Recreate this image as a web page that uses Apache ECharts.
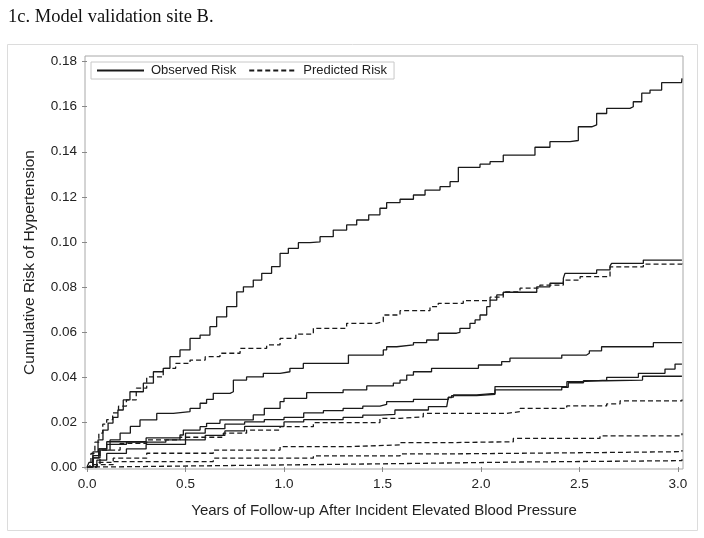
<!DOCTYPE html>
<html>
<head>
<meta charset="utf-8">
<script src="https://cdn.jsdelivr.net/npm/echarts@6/dist/echarts.min.js"></script>
<style>
html,body{margin:0;padding:0;background:#fff;}
#chart{width:704px;height:538px;}
</style>
</head>
<body>
<div id="chart"></div>
<script>
// ---- Data (years, cumulative risk) ----
var xTicks = [0, 0.5, 1.0, 1.5, 2.0, 2.5, 3.0];
var yTicks = [0, 0.02, 0.04, 0.06, 0.08, 0.10, 0.12, 0.14, 0.16, 0.18];

var observed5 = [[0,0],[0.01,0.002],[0.03,0.0067],[0.056,0.012],[0.081,0.0164],[0.107,0.0195],[0.132,0.022],[0.157,0.0253],[0.184,0.0298],[0.218,0.0334],[0.286,0.0372],[0.337,0.0423],[0.387,0.0438],[0.421,0.049],[0.472,0.052],[0.523,0.0571],[0.574,0.0586],[0.624,0.0623],[0.658,0.0667],[0.709,0.0712],[0.76,0.0778],[0.794,0.080],[0.844,0.083],[0.887,0.086],[0.937,0.089],[0.98,0.0949],[1.022,0.0971],[1.073,0.0996],[1.132,0.100],[1.183,0.1023],[1.25,0.1052],[1.318,0.1075],[1.369,0.1097],[1.43,0.112],[1.487,0.1149],[1.521,0.1174],[1.589,0.1189],[1.657,0.1208],[1.716,0.123],[1.792,0.1245],[1.843,0.1267],[1.885,0.1331],[1.995,0.1345],[2.046,0.1356],[2.113,0.1385],[2.274,0.142],[2.35,0.1445],[2.452,0.145],[2.494,0.1511],[2.562,0.1519],[2.587,0.157],[2.638,0.1593],[2.756,0.16],[2.773,0.1622],[2.816,0.166],[2.858,0.1674],[2.917,0.1707],[3.018,0.1707],[3.02,0.1726]];

var observed4 = [[0,0],[0.03,0.004],[0.066,0.0075],[0.117,0.012],[0.168,0.015],[0.22,0.018],[0.269,0.0209],[0.354,0.0238],[0.438,0.0246],[0.523,0.026],[0.574,0.0283],[0.607,0.030],[0.641,0.0327],[0.726,0.0334],[0.743,0.0386],[0.81,0.040],[0.895,0.0416],[0.98,0.0423],[1.03,0.0438],[1.098,0.046],[1.327,0.0497],[1.504,0.052],[1.521,0.0534],[1.572,0.0542],[1.657,0.0552],[1.724,0.0564],[1.783,0.0594],[1.876,0.0598],[1.893,0.0616],[1.944,0.0638],[1.97,0.0653],[1.995,0.0675],[2.029,0.0712],[2.046,0.0741],[2.08,0.0764],[2.113,0.0776],[2.283,0.080],[2.35,0.0816],[2.418,0.0838],[2.426,0.086],[2.587,0.0875],[2.655,0.0893],[2.663,0.0904],[2.824,0.0919],[3.02,0.0922]];

var observed3 = [[0,0],[0.03,0.004],[0.06,0.008],[0.1,0.0112],[0.3,0.0129],[0.472,0.0142],[0.489,0.0164],[0.574,0.0179],[0.607,0.0194],[0.675,0.0209],[0.844,0.0231],[0.9,0.026],[0.98,0.029],[1.0,0.0305],[1.115,0.033],[1.3,0.0342],[1.42,0.036],[1.555,0.0372],[1.589,0.0386],[1.623,0.0408],[1.657,0.0423],[1.749,0.0438],[1.987,0.0453],[2.105,0.0468],[2.147,0.0483],[2.41,0.0497],[2.536,0.0505],[2.55,0.0516],[2.612,0.0534],[2.875,0.0552],[3.02,0.0552]];

var observed2 = [[0,0],[0.03,0.005],[0.06,0.008],[0.1,0.01],[0.2,0.011],[0.4,0.012],[0.5,0.015],[0.6,0.017],[0.7,0.019],[0.8,0.02],[0.9,0.021],[1.0,0.022],[1.1,0.024],[1.2,0.025],[1.3,0.026],[1.4,0.027],[1.487,0.0278],[1.521,0.029],[1.657,0.030],[1.834,0.031],[1.86,0.032],[1.978,0.0327],[2.071,0.0357],[2.436,0.0379],[2.511,0.0386],[2.638,0.0398],[2.799,0.0416],[2.934,0.0435],[2.985,0.0457],[3.02,0.0457]];

var observed1 = [[0,0],[0.05,0.003],[0.1,0.006],[0.2,0.008],[0.3,0.01],[0.5,0.012],[0.6,0.014],[0.7,0.016],[0.8,0.018],[1.0,0.02],[1.1,0.021],[1.3,0.022],[1.4,0.023],[1.487,0.0234],[1.563,0.0253],[1.733,0.0268],[1.826,0.0275],[1.834,0.0308],[1.851,0.0317],[1.978,0.0323],[2.071,0.0342],[2.41,0.0354],[2.443,0.0374],[2.52,0.0383],[2.63,0.0386],[2.82,0.0403],[3.02,0.0403]];

var predicted5 = [[0,0],[0.02,0.006],[0.04,0.011],[0.06,0.015],[0.08,0.019],[0.1,0.021],[0.13,0.024],[0.16,0.027],[0.2,0.0298],[0.25,0.035],[0.303,0.040],[0.387,0.0438],[0.45,0.046],[0.523,0.0475],[0.6,0.049],[0.675,0.0505],[0.777,0.0527],[0.912,0.0542],[0.98,0.0571],[1.06,0.059],[1.149,0.0616],[1.318,0.0638],[1.47,0.0645],[1.504,0.0675],[1.589,0.0694],[1.741,0.0712],[1.783,0.0727],[1.91,0.0739],[2.046,0.0754],[2.113,0.0778],[2.198,0.0794],[2.299,0.0808],[2.418,0.083],[2.503,0.0845],[2.655,0.0889],[2.824,0.0901],[3.02,0.0915]];

var predicted4 = [[0,0],[0.015,0.001],[0.066,0.0075],[0.168,0.0105],[0.303,0.012],[0.472,0.0132],[0.692,0.015],[0.81,0.0164],[0.98,0.0179],[1.149,0.0197],[1.487,0.0216],[1.589,0.0223],[1.707,0.0238],[2.13,0.0246],[2.198,0.026],[2.435,0.0271],[2.638,0.028],[2.706,0.0294],[3.02,0.030]];

var predicted3 = [[0,0],[0.05,0.002],[0.133,0.0039],[0.303,0.0061],[0.641,0.0075],[0.98,0.009],[1.318,0.0098],[1.589,0.0108],[1.826,0.0112],[2.164,0.0127],[2.604,0.0138],[3.02,0.015]];

var predicted2 = [[0,0],[0.05,0.001],[0.133,0.0024],[0.641,0.0039],[1.149,0.0049],[1.589,0.0058],[1.826,0.0064],[2.604,0.0068],[3.02,0.0075]];

var predicted1 = [[0,0],[0.1,0.0004],[0.472,0.0009],[1.0,0.0015],[1.589,0.0022],[2.2,0.0028],[3.02,0.0034]];

var observedSets = [observed5, observed4, observed3, observed2, observed1];
var predictedSets = [predicted5, predicted4, predicted3, predicted2, predicted1];

// ---- Chart ----
var chart = echarts.init(document.getElementById('chart'), null, {renderer: 'canvas'});
var lineColor = '#1a1a1a';
var series = [];
observedSets.forEach(function (d) {
  series.push({
    name: 'Observed Risk', type: 'line', data: d, step: 'end',
    symbol: 'none', showSymbol: false, silent: true, animation: false,
    lineStyle: {color: lineColor, width: 1.3, type: 'solid'},
    itemStyle: {color: lineColor}
  });
});
predictedSets.forEach(function (d) {
  series.push({
    name: 'Predicted Risk', type: 'line', data: d, step: 'end',
    symbol: 'none', showSymbol: false, silent: true, animation: false,
    lineStyle: {color: lineColor, width: 1.3, type: [5, 3]},
    itemStyle: {color: lineColor}
  });
});

var axisFont = 'Liberation Sans, Arial, sans-serif';
var option = {
  animation: false,
  backgroundColor: '#fff',
  title: {
    text: '1c. Model validation site B.',
    left: 3, top: 3,
    textStyle: {fontFamily: 'Liberation Serif, Times New Roman, serif', fontSize: 18.5, fontWeight: 'normal', color: '#111'}
  },
  graphic: [{
    type: 'rect', z: -1, silent: true,
    shape: {x: 7.5, y: 44.5, width: 690, height: 486},
    style: {fill: 'none', stroke: '#dcdcdc', lineWidth: 1}
  }],
  legend: {
    data: ['Observed Risk', 'Predicted Risk'],
    left: 91, top: 62,
    padding: [2, 7, 2, 5],
    itemWidth: 47, itemHeight: 10, itemGap: 12,
    itemStyle: {opacity: 0},
    borderColor: '#c8c8c8', borderWidth: 1,
    textStyle: {fontFamily: axisFont, fontSize: 13, color: '#222', padding: [0, 0, 0, 2]}
  },
  grid: {
    left: 85, right: 21, top: 56, bottom: 69,
    show: true, borderColor: '#a8a8a8', borderWidth: 1, containLabel: false
  },
  xAxis: {
    type: 'value', min: -0.0102, max: 3.0254,
    name: 'Years of Follow-up After Incident Elevated Blood Pressure',
    nameLocation: 'middle', nameGap: 34,
    nameTextStyle: {fontFamily: axisFont, fontSize: 15, color: '#222'},
    axisLine: {show: false},
    splitLine: {show: false},
    axisTick: {show: true, length: 5, inside: false, customValues: xTicks, lineStyle: {color: '#888'}},
    axisLabel: {customValues: xTicks, margin: 8, fontFamily: axisFont, fontSize: 13.5, color: '#222',
      formatter: function (v) { return v.toFixed(1); }}
  },
  yAxis: {
    type: 'value', min: -0.0009, max: 0.18253,
    name: 'Cumulative Risk of Hypertension',
    nameLocation: 'middle', nameGap: 47, nameRotate: 90,
    nameTextStyle: {fontFamily: axisFont, fontSize: 15.5, color: '#222'},
    axisLine: {show: false},
    splitLine: {show: false},
    axisTick: {show: true, length: 5, inside: false, customValues: yTicks, lineStyle: {color: '#888'}},
    axisLabel: {customValues: yTicks, margin: 8, fontFamily: axisFont, fontSize: 13.5, color: '#222',
      formatter: function (v) { return v.toFixed(2); }}
  },
  series: series
};
chart.setOption(option);
</script>
</body>
</html>
